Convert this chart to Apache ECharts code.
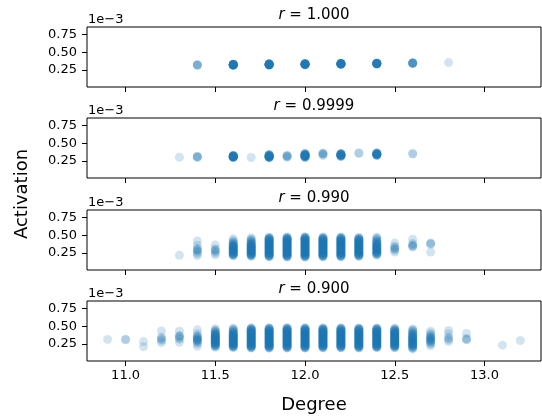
<!DOCTYPE html>
<html>
<head>
<meta charset="utf-8">
<script src="https://cdn.jsdelivr.net/npm/echarts@6/dist/echarts.min.js"></script>
<style>
html,body{margin:0;padding:0;background:#fff;}
#chart{width:542px;height:417px;}
</style>
</head>
<body>
<div id="chart"></div>
<script>
// Titles (correlation r) for each panel
const rLabels = ['1.000', '0.9999', '0.990', '0.900'];
const xTicks = [11.0, 11.5, 12.0, 12.5, 13.0];
const yTicks = [0.25, 0.50, 0.75];
const xTitle = 'Degree';
const yTitle = 'Activation';
const yScaleText = '1e\u22123';

// Activation values are in units of 1e-3, grouped by degree column
const p1_x = [11.4, 11.6, 11.8, 12.0, 12.2, 12.4, 12.6, 12.8];
const p1_y = [
  [0.319, 0.321, 0.322, 0.324],
  [0.318, 0.319, 0.320, 0.321, 0.322, 0.322, 0.323, 0.323, 0.324, 0.324, 0.325, 0.325, 0.326, 0.326, 0.327, 0.328, 0.329, 0.330, 0.331, 0.332],
  [0.320, 0.321, 0.322, 0.323, 0.324, 0.325, 0.326, 0.327, 0.328, 0.329, 0.330, 0.330, 0.331, 0.332, 0.333, 0.334, 0.335, 0.336, 0.337, 0.338],
  [0.325, 0.326, 0.327, 0.328, 0.329, 0.330, 0.331, 0.332, 0.332, 0.333, 0.334, 0.335, 0.336, 0.337, 0.338, 0.339, 0.340, 0.341],
  [0.330, 0.331, 0.332, 0.333, 0.334, 0.335, 0.336, 0.337, 0.337, 0.338, 0.339, 0.340, 0.341, 0.342, 0.343, 0.344, 0.345],
  [0.335, 0.336, 0.337, 0.338, 0.339, 0.340, 0.341, 0.342, 0.342, 0.343, 0.344, 0.345, 0.346, 0.347, 0.348],
  [0.345, 0.346, 0.347, 0.348, 0.349, 0.350, 0.351],
  [0.355]
];

const p2_x = [11.3, 11.4, 11.6, 11.7, 11.8, 11.9, 12.0, 12.1, 12.2, 12.3, 12.4, 12.6];
const p2_y = [
  [0.305],
  [0.300, 0.308, 0.312, 0.318],
  [0.300, 0.302, 0.304, 0.306, 0.308, 0.309, 0.310, 0.311, 0.312, 0.313, 0.314, 0.315, 0.316, 0.318, 0.320, 0.322, 0.324, 0.326, 0.328, 0.330],
  [0.300],
  [0.296, 0.299, 0.302, 0.304, 0.306, 0.308, 0.310, 0.312, 0.314, 0.316, 0.318, 0.320, 0.322, 0.324, 0.326, 0.328, 0.330, 0.333, 0.336, 0.340, 0.344],
  [0.302, 0.312, 0.318, 0.325, 0.332],
  [0.300, 0.303, 0.306, 0.309, 0.312, 0.315, 0.318, 0.320, 0.322, 0.324, 0.326, 0.328, 0.330, 0.332, 0.334, 0.336, 0.338, 0.341, 0.344, 0.347, 0.350, 0.354, 0.358],
  [0.328, 0.345, 0.350, 0.355, 0.365],
  [0.312, 0.316, 0.320, 0.323, 0.326, 0.329, 0.332, 0.334, 0.336, 0.338, 0.340, 0.342, 0.344, 0.346, 0.348, 0.351, 0.354, 0.358],
  [0.360, 0.364],
  [0.328, 0.332, 0.335, 0.338, 0.340, 0.342, 0.344, 0.346, 0.348, 0.350, 0.352, 0.354, 0.356, 0.359, 0.362, 0.366],
  [0.350, 0.356]
];

const p3_x = [11.3, 11.4, 11.5, 11.6, 11.7, 11.8, 11.9, 12.0, 12.1, 12.2, 12.3, 12.4, 12.5, 12.6, 12.7];
const p3_y = [
  [0.220],
  [0.215, 0.240, 0.262, 0.280, 0.292, 0.302, 0.315, 0.360, 0.420],
  [0.225, 0.250, 0.272, 0.285, 0.298, 0.310, 0.365],
  [0.212, 0.218, 0.224, 0.229, 0.234, 0.239, 0.244, 0.249, 0.254, 0.259, 0.264, 0.269, 0.274, 0.279, 0.284, 0.289, 0.294, 0.299, 0.304, 0.309, 0.314, 0.319, 0.324, 0.329, 0.334, 0.339, 0.345, 0.351, 0.357, 0.364, 0.371, 0.379, 0.388, 0.398, 0.410, 0.425, 0.450],
  [0.205, 0.211, 0.217, 0.222, 0.227, 0.232, 0.237, 0.242, 0.247, 0.252, 0.257, 0.262, 0.267, 0.272, 0.277, 0.282, 0.287, 0.292, 0.297, 0.302, 0.307, 0.312, 0.317, 0.322, 0.327, 0.332, 0.337, 0.342, 0.347, 0.352, 0.357, 0.363, 0.369, 0.375, 0.382, 0.389, 0.396, 0.404, 0.413, 0.423, 0.434, 0.447, 0.462],
  [0.196, 0.201, 0.206, 0.211, 0.216, 0.221, 0.226, 0.231, 0.236, 0.241, 0.246, 0.251, 0.256, 0.261, 0.266, 0.271, 0.276, 0.281, 0.286, 0.291, 0.296, 0.301, 0.306, 0.311, 0.316, 0.321, 0.326, 0.331, 0.336, 0.341, 0.346, 0.351, 0.356, 0.361, 0.366, 0.371, 0.376, 0.381, 0.386, 0.391, 0.396, 0.401, 0.406, 0.411, 0.416, 0.421, 0.426, 0.431, 0.436, 0.441, 0.446, 0.451, 0.456, 0.461, 0.466, 0.472],
  [0.194, 0.199, 0.204, 0.209, 0.214, 0.219, 0.224, 0.229, 0.234, 0.239, 0.244, 0.249, 0.254, 0.259, 0.264, 0.269, 0.274, 0.279, 0.284, 0.289, 0.294, 0.299, 0.304, 0.309, 0.314, 0.319, 0.324, 0.329, 0.334, 0.339, 0.344, 0.349, 0.354, 0.359, 0.364, 0.369, 0.374, 0.379, 0.384, 0.389, 0.394, 0.399, 0.404, 0.409, 0.414, 0.419, 0.424, 0.429, 0.434, 0.439, 0.444, 0.449, 0.454, 0.459, 0.464, 0.469, 0.475],
  [0.193, 0.198, 0.203, 0.208, 0.213, 0.218, 0.223, 0.228, 0.233, 0.238, 0.243, 0.248, 0.253, 0.258, 0.263, 0.268, 0.273, 0.278, 0.283, 0.288, 0.293, 0.298, 0.303, 0.308, 0.313, 0.318, 0.323, 0.328, 0.333, 0.338, 0.343, 0.348, 0.353, 0.358, 0.363, 0.368, 0.373, 0.378, 0.383, 0.388, 0.393, 0.398, 0.403, 0.408, 0.413, 0.418, 0.423, 0.428, 0.433, 0.438, 0.443, 0.448, 0.453, 0.458, 0.463, 0.468, 0.473, 0.478],
  [0.197, 0.202, 0.207, 0.212, 0.217, 0.222, 0.227, 0.232, 0.237, 0.242, 0.247, 0.252, 0.257, 0.262, 0.267, 0.272, 0.277, 0.282, 0.287, 0.292, 0.297, 0.302, 0.307, 0.312, 0.317, 0.322, 0.327, 0.332, 0.337, 0.342, 0.347, 0.352, 0.357, 0.362, 0.367, 0.372, 0.377, 0.382, 0.387, 0.392, 0.397, 0.402, 0.407, 0.412, 0.417, 0.422, 0.427, 0.432, 0.437, 0.442, 0.447, 0.452, 0.457, 0.462, 0.467, 0.476],
  [0.198, 0.203, 0.208, 0.213, 0.218, 0.223, 0.228, 0.233, 0.238, 0.243, 0.248, 0.253, 0.258, 0.263, 0.268, 0.273, 0.278, 0.283, 0.288, 0.293, 0.298, 0.303, 0.308, 0.313, 0.318, 0.323, 0.328, 0.333, 0.338, 0.343, 0.348, 0.353, 0.358, 0.363, 0.368, 0.373, 0.378, 0.383, 0.388, 0.393, 0.398, 0.403, 0.408, 0.413, 0.418, 0.423, 0.428, 0.433, 0.438, 0.443, 0.448, 0.453, 0.458, 0.463, 0.468, 0.474],
  [0.203, 0.208, 0.214, 0.220, 0.225, 0.230, 0.235, 0.240, 0.245, 0.250, 0.255, 0.260, 0.265, 0.270, 0.275, 0.280, 0.285, 0.290, 0.295, 0.300, 0.305, 0.310, 0.315, 0.320, 0.325, 0.330, 0.335, 0.340, 0.345, 0.350, 0.355, 0.360, 0.365, 0.370, 0.375, 0.380, 0.385, 0.390, 0.395, 0.400, 0.405, 0.410, 0.415, 0.420, 0.425, 0.430, 0.435, 0.440, 0.445, 0.450, 0.455, 0.461, 0.470],
  [0.222, 0.229, 0.236, 0.242, 0.248, 0.254, 0.260, 0.266, 0.272, 0.278, 0.284, 0.290, 0.296, 0.302, 0.308, 0.314, 0.320, 0.326, 0.332, 0.338, 0.344, 0.350, 0.356, 0.362, 0.368, 0.375, 0.382, 0.389, 0.397, 0.405, 0.414, 0.424, 0.435, 0.447, 0.460, 0.472],
  [0.265, 0.290, 0.305, 0.318, 0.330, 0.345, 0.390],
  [0.335, 0.345, 0.355, 0.365, 0.385, 0.445],
  [0.265, 0.375, 0.385, 0.392]
];

const p4_x = [10.9, 11.0, 11.1, 11.2, 11.3, 11.4, 11.5, 11.6, 11.7, 11.8, 11.9, 12.0, 12.1, 12.2, 12.3, 12.4, 12.5, 12.6, 12.7, 12.8, 12.9, 13.1, 13.2];
const p4_y = [
  [0.315],
  [0.310, 0.318],
  [0.212, 0.285],
  [0.270, 0.300, 0.315, 0.328, 0.350, 0.435],
  [0.275, 0.315, 0.335, 0.350, 0.365, 0.372, 0.430],
  [0.220, 0.255, 0.272, 0.285, 0.295, 0.303, 0.311, 0.319, 0.327, 0.335, 0.344, 0.355, 0.372, 0.395, 0.450],
  [0.205, 0.214, 0.222, 0.229, 0.236, 0.242, 0.248, 0.253, 0.258, 0.263, 0.268, 0.273, 0.278, 0.283, 0.288, 0.293, 0.298, 0.303, 0.308, 0.313, 0.318, 0.323, 0.328, 0.333, 0.338, 0.343, 0.348, 0.353, 0.358, 0.363, 0.368, 0.374, 0.380, 0.386, 0.393, 0.400, 0.408, 0.416, 0.425, 0.435, 0.446, 0.465],
  [0.200, 0.206, 0.212, 0.218, 0.223, 0.228, 0.233, 0.238, 0.243, 0.248, 0.253, 0.258, 0.263, 0.268, 0.273, 0.278, 0.283, 0.288, 0.293, 0.298, 0.303, 0.308, 0.313, 0.318, 0.323, 0.328, 0.333, 0.338, 0.343, 0.348, 0.353, 0.358, 0.363, 0.368, 0.373, 0.378, 0.384, 0.390, 0.396, 0.402, 0.409, 0.416, 0.424, 0.432, 0.441, 0.451, 0.461, 0.472],
  [0.195, 0.200, 0.205, 0.210, 0.215, 0.220, 0.225, 0.230, 0.235, 0.240, 0.245, 0.250, 0.255, 0.260, 0.265, 0.270, 0.275, 0.280, 0.285, 0.290, 0.295, 0.300, 0.305, 0.310, 0.315, 0.320, 0.325, 0.330, 0.335, 0.340, 0.345, 0.350, 0.355, 0.360, 0.365, 0.370, 0.375, 0.380, 0.385, 0.390, 0.395, 0.400, 0.405, 0.410, 0.415, 0.420, 0.425, 0.430, 0.435, 0.440, 0.445, 0.450, 0.455, 0.460, 0.465, 0.470, 0.478],
  [0.192, 0.197, 0.202, 0.207, 0.212, 0.217, 0.222, 0.227, 0.232, 0.237, 0.242, 0.247, 0.252, 0.257, 0.262, 0.267, 0.272, 0.277, 0.282, 0.287, 0.292, 0.297, 0.302, 0.307, 0.312, 0.317, 0.322, 0.327, 0.332, 0.337, 0.342, 0.347, 0.352, 0.357, 0.362, 0.367, 0.372, 0.377, 0.382, 0.387, 0.392, 0.397, 0.402, 0.407, 0.412, 0.417, 0.422, 0.427, 0.432, 0.437, 0.442, 0.447, 0.452, 0.457, 0.462, 0.467, 0.472, 0.480],
  [0.194, 0.199, 0.204, 0.209, 0.214, 0.219, 0.224, 0.229, 0.234, 0.239, 0.244, 0.249, 0.254, 0.259, 0.264, 0.269, 0.274, 0.279, 0.284, 0.289, 0.294, 0.299, 0.304, 0.309, 0.314, 0.319, 0.324, 0.329, 0.334, 0.339, 0.344, 0.349, 0.354, 0.359, 0.364, 0.369, 0.374, 0.379, 0.384, 0.389, 0.394, 0.399, 0.404, 0.409, 0.414, 0.419, 0.424, 0.429, 0.434, 0.439, 0.444, 0.449, 0.454, 0.459, 0.464, 0.469, 0.474, 0.479],
  [0.193, 0.198, 0.203, 0.208, 0.213, 0.218, 0.223, 0.228, 0.233, 0.238, 0.243, 0.248, 0.253, 0.258, 0.263, 0.268, 0.273, 0.278, 0.283, 0.288, 0.293, 0.298, 0.303, 0.308, 0.313, 0.318, 0.323, 0.328, 0.333, 0.338, 0.343, 0.348, 0.353, 0.358, 0.363, 0.368, 0.373, 0.378, 0.383, 0.388, 0.393, 0.398, 0.403, 0.408, 0.413, 0.418, 0.423, 0.428, 0.433, 0.438, 0.443, 0.448, 0.453, 0.458, 0.463, 0.468, 0.473, 0.478],
  [0.196, 0.201, 0.206, 0.211, 0.216, 0.221, 0.226, 0.231, 0.236, 0.241, 0.246, 0.251, 0.256, 0.261, 0.266, 0.271, 0.276, 0.281, 0.286, 0.291, 0.296, 0.301, 0.306, 0.311, 0.316, 0.321, 0.326, 0.331, 0.336, 0.341, 0.346, 0.351, 0.356, 0.361, 0.366, 0.371, 0.376, 0.381, 0.386, 0.391, 0.396, 0.401, 0.406, 0.411, 0.416, 0.421, 0.426, 0.431, 0.436, 0.441, 0.446, 0.451, 0.456, 0.461, 0.466, 0.471, 0.477],
  [0.197, 0.202, 0.207, 0.212, 0.217, 0.222, 0.227, 0.232, 0.237, 0.242, 0.247, 0.252, 0.257, 0.262, 0.267, 0.272, 0.277, 0.282, 0.287, 0.292, 0.297, 0.302, 0.307, 0.312, 0.317, 0.322, 0.327, 0.332, 0.337, 0.342, 0.347, 0.352, 0.357, 0.362, 0.367, 0.372, 0.377, 0.382, 0.387, 0.392, 0.397, 0.402, 0.407, 0.412, 0.417, 0.422, 0.427, 0.432, 0.437, 0.442, 0.447, 0.452, 0.457, 0.462, 0.467, 0.472, 0.476],
  [0.195, 0.200, 0.205, 0.210, 0.215, 0.220, 0.225, 0.230, 0.235, 0.240, 0.245, 0.250, 0.255, 0.260, 0.265, 0.270, 0.275, 0.280, 0.285, 0.290, 0.295, 0.300, 0.305, 0.310, 0.315, 0.320, 0.325, 0.330, 0.335, 0.340, 0.345, 0.350, 0.355, 0.360, 0.365, 0.370, 0.375, 0.380, 0.385, 0.390, 0.395, 0.400, 0.405, 0.410, 0.415, 0.420, 0.425, 0.430, 0.435, 0.440, 0.445, 0.450, 0.455, 0.460, 0.465, 0.470, 0.477],
  [0.199, 0.204, 0.209, 0.214, 0.219, 0.224, 0.229, 0.234, 0.239, 0.244, 0.249, 0.254, 0.259, 0.264, 0.269, 0.274, 0.279, 0.284, 0.289, 0.294, 0.299, 0.304, 0.309, 0.314, 0.319, 0.324, 0.329, 0.334, 0.339, 0.344, 0.349, 0.354, 0.359, 0.364, 0.369, 0.374, 0.379, 0.384, 0.389, 0.394, 0.399, 0.404, 0.409, 0.414, 0.419, 0.424, 0.429, 0.434, 0.439, 0.444, 0.449, 0.454, 0.459, 0.464, 0.469, 0.475],
  [0.198, 0.204, 0.210, 0.216, 0.221, 0.226, 0.231, 0.236, 0.241, 0.246, 0.251, 0.256, 0.261, 0.266, 0.271, 0.276, 0.281, 0.286, 0.291, 0.296, 0.301, 0.306, 0.311, 0.316, 0.321, 0.326, 0.331, 0.336, 0.341, 0.346, 0.351, 0.356, 0.361, 0.366, 0.371, 0.376, 0.381, 0.386, 0.391, 0.396, 0.401, 0.406, 0.411, 0.416, 0.421, 0.426, 0.431, 0.437, 0.443, 0.449, 0.456, 0.464, 0.473],
  [0.182, 0.192, 0.201, 0.209, 0.216, 0.223, 0.229, 0.235, 0.241, 0.247, 0.253, 0.259, 0.265, 0.271, 0.277, 0.283, 0.289, 0.295, 0.301, 0.307, 0.313, 0.319, 0.325, 0.331, 0.337, 0.343, 0.349, 0.356, 0.363, 0.370, 0.378, 0.386, 0.395, 0.404, 0.414, 0.425, 0.437, 0.449, 0.462],
  [0.225, 0.250, 0.265, 0.278, 0.288, 0.297, 0.305, 0.313, 0.321, 0.329, 0.337, 0.346, 0.356, 0.368, 0.385, 0.405, 0.430],
  [0.285, 0.310, 0.330, 0.345, 0.395, 0.440],
  [0.310, 0.318, 0.328, 0.400],
  [0.235],
  [0.300]
];

const panelsX = [p1_x, p2_x, p3_x, p4_x];
const panelsY = [p1_y, p2_y, p3_y, p4_y];

const FONT = 'DejaVu Sans';
const gridTops = [27, 118, 210, 301];
const gridH = 60;
const gridLeft = 87;
const gridW = 454;

const grids = [], xAxes = [], yAxes = [], series = [], graphics = [];
gridTops.forEach((top, i) => {
  grids.push({left: gridLeft, top: top, width: gridW, height: gridH, show: true,
    borderColor: '#000', borderWidth: 1, backgroundColor: 'transparent', containLabel: false});
  xAxes.push({
    type: 'value', gridIndex: i, min: 10.785, max: 13.315,
    splitLine: {show: false}, axisLine: {show: false},
    axisTick: {show: true, inside: false, length: 5, customValues: xTicks, lineStyle: {color: '#000', width: 1}},
    axisLabel: {show: i === 3, customValues: xTicks, margin: 8, fontFamily: FONT, fontSize: 13, color: '#000',
      formatter: v => v.toFixed(1)}
  });
  yAxes.push({
    type: 'value', gridIndex: i, min: 0.012, max: 0.855,
    splitLine: {show: false}, axisLine: {show: false},
    axisTick: {show: true, length: 5, customValues: yTicks, lineStyle: {color: '#000', width: 1}},
    axisLabel: {show: true, customValues: yTicks, margin: 10, fontFamily: FONT, fontSize: 13, color: '#000',
      formatter: v => v.toFixed(2)}
  });
  // one small scatter series per degree column
  panelsX[i].forEach((x, j) => {
    series.push({
      type: 'scatter', xAxisIndex: i, yAxisIndex: i,
      data: panelsY[i][j].map(y => [x, y]),
      symbolSize: 9,
      itemStyle: {color: '#1f77b4', opacity: 0.2}
    });
  });
  graphics.push({
    type: 'text', x: gridLeft + gridW / 2, y: top - 12, silent: true,
    style: {
      text: '{i|r} = ' + rLabels[i], x: 0, y: 0, align: 'center', verticalAlign: 'middle',
      font: '15px "' + FONT + '"', fill: '#000',
      rich: {i: {fontStyle: 'italic', fontFamily: FONT, fontSize: 15, fill: '#000'}}
    }
  });
  graphics.push({
    type: 'text', x: gridLeft + 1, y: top - 0.5, silent: true,
    style: {text: yScaleText, x: 0, y: 0, align: 'left', verticalAlign: 'bottom',
      font: '13px "' + FONT + '"', fill: '#000'}
  });
});

graphics.push({
  type: 'text', x: 22.5, y: 194, rotation: Math.PI / 2, silent: true,
  style: {text: yTitle, x: 0, y: 0, align: 'center', verticalAlign: 'middle', font: '18px "' + FONT + '"', fill: '#000'}
});
graphics.push({
  type: 'text', x: gridLeft + gridW / 2, y: 405, silent: true,
  style: {text: xTitle, x: 0, y: 0, align: 'center', verticalAlign: 'middle', font: '18px "' + FONT + '"', fill: '#000'}
});

const chart = echarts.init(document.getElementById('chart'));
chart.setOption({
  animation: false,
  backgroundColor: '#fff',
  grid: grids, xAxis: xAxes, yAxis: yAxes, series: series, graphic: graphics
});
</script>
</body>
</html>
